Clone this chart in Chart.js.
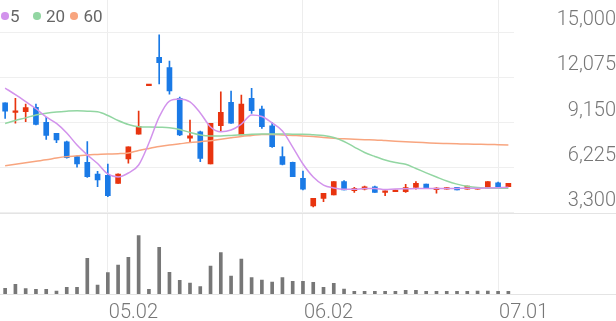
<!DOCTYPE html>
<html><head><meta charset="utf-8">
<script src="https://cdn.jsdelivr.net/npm/chart.js@4.4.1/dist/chart.umd.min.js"></script>
<style>
html,body{margin:0;padding:0;background:#fff;}
#wrap{position:relative;width:616px;height:321px;overflow:hidden;}
#c{position:absolute;left:0;top:0;}
.lgt{position:absolute;font-family:Roboto,"Noto Sans",sans-serif;font-size:17px;color:#666;line-height:20px;top:6px;}
.dot{position:absolute;width:7.5px;height:7.5px;border-radius:50%;top:12px;}
</style></head><body>
<div id="wrap"><canvas id="c" width="616" height="321"></canvas><div id="legend"></div></div>
<script>
const categories = ['04.17','04.18','04.21','04.22','04.23','04.24','04.25','04.28','04.29','04.30',
  '05.02','05.07','05.08','05.09','05.12','05.13','05.14','05.15','05.16','05.19',
  '05.20','05.21','05.22','05.23','05.26','05.27','05.28','05.29','05.30','06.02',
  '06.04','06.05','06.09','06.10','06.11','06.12','06.13','06.16','06.17','06.18',
  '06.19','06.20','06.23','06.24','06.25','06.26','06.27','06.30','07.01','07.02'];
const openPrices  = [10440,9820,9860,10140,9170,8460,7900,6950,6580,5820,5740,5220,6800,8400,11550,13380,12710,10730,8140,8560,6470,8950,10470,8350,10730,10030,8950,6950,6580,5550,3750,4250,4470,5330,4740,4850,5000,4640,4680,4680,4960,5180,4810,4850,4960,4840,4850,4900,5260,5000];
const highPrices  = [10440,10730,10360,10360,9500,8460,7950,6950,7920,6000,6470,5830,7590,9900,11600,14830,13140,10800,9320,8600,9110,11150,11200,10940,11370,10230,9150,7590,6600,6020,4250,4580,5330,5400,4960,5050,5050,4740,4790,5160,5330,5180,4940,4940,4960,5050,4960,5330,5300,5220];
const lowPrices   = [9430,9110,9210,9000,8070,7850,6850,6260,5610,5000,4350,5220,6520,8400,11550,11650,10990,8300,7850,6620,6470,8560,9100,8350,9750,8780,7550,6410,5650,4790,3700,4030,4470,4790,4640,4790,4640,4420,4680,4640,4840,4900,4580,4850,4790,4840,4850,4900,5000,5000];
const closePrices = [9900,9920,10120,9040,8330,8030,6880,6470,5650,5440,4420,5820,7590,8910,11600,13030,11200,8350,8290,6840,9110,9820,9110,10360,9920,8890,7590,6450,5650,4850,4250,4580,5330,4790,4900,5000,4640,4740,4790,4940,5220,4900,4900,4940,4790,5050,4960,5330,5000,5220];
const volumes = [57,97,53,47,47,30,67,67,357,90,213,290,367,583,47,467,217,137,110,73,280,413,180,350,163,140,120,163,127,127,117,67,107,50,27,27,27,27,27,37,37,27,27,27,27,27,30,30,27,27];
const ma5  = [11390,10960,10510,10050,9520,9100,8480,7700,7060,6500,5830,5630,5890,6410,7830,9520,10550,10680,10490,9780,8870,8560,8670,9060,9650,9550,9130,8610,7570,6470,5630,5110,4920,4830,4830,4890,4890,4820,4860,4870,4880,4890,4880,4880,4890,4900,4900,4920,4940,4960];
const ma20 = [9090,9290,9460,9650,9760,9840,9890,9920,9890,9850,9610,9290,9030,8890,8870,8850,8820,8710,8510,8350,8290,8290,8320,8360,8400,8420,8420,8420,8400,8400,8360,8310,8190,7930,7570,7220,6960,6730,6570,6450,6180,5900,5630,5370,5170,5030,4950,4920,4900,4900];
const ma60 = [6360,6450,6550,6650,6740,6860,6950,7000,7060,7090,7120,7140,7190,7350,7480,7600,7700,7780,7860,7920,7980,8070,8170,8260,8320,8380,8380,8350,8320,8290,8250,8190,8140,8100,8080,8050,8030,7990,7950,7920,7880,7850,7820,7800,7780,7760,7750,7740,7720,7700];
const priceTicks = [3300, 6225, 9150, 12075, 15000];
const dateTicks = ['05.02','06.02','07.01'];
const maLabels = ['5','20','60'];
const maColors = ['#d293ec','#92d6a2','#f8a57f'];

const UP = '#e8340f', DOWN = '#1a7ae6';
const candleColors = closePrices.map((c,i)=> c >= openPrices[i] ? UP : DOWN);

// HTML legend
const lg = document.getElementById('legend');
const dotX = [1.3, 33, 70.3], txtX = [10, 46, 83.5];
maLabels.forEach((t,i)=>{
  const d = document.createElement('div'); d.className='dot'; d.style.left=dotX[i]+'px'; d.style.background=maColors[i]; lg.appendChild(d);
  const s = document.createElement('div'); s.className='lgt'; s.style.left=txtX[i]+'px'; s.textContent=t; lg.appendChild(s);
});

const separators = {
  id:'separators',
  beforeDatasetsDraw(chart){
    const {ctx, chartArea} = chart;
    const y1 = Math.round(chart.scales.y.getPixelForValue(priceTicks[0])) + 0.5;
    const y2 = Math.round(chartArea.bottom) + 0.5;
    ctx.save();
    ctx.strokeStyle = '#e4e4e4'; ctx.lineWidth = 1;
    ctx.beginPath();
    ctx.moveTo(0, y1); ctx.lineTo(chart.width, y1);
    ctx.moveTo(0, y2); ctx.lineTo(chart.width, y2);
    ctx.stroke();
    ctx.restore();
  }
};

const noPad = s => { s.paddingTop = 0; s.paddingBottom = 0; s.paddingLeft = 0; s.paddingRight = 0; };
const axisFont = {family:'Roboto', size:20, weight:'300'};

new Chart(document.getElementById('c'), {
  data: {
    labels: categories,
    datasets: [
      {type:'line', label:maLabels[0], data:ma5, borderColor:maColors[0], borderWidth:1.5, pointRadius:0, cubicInterpolationMode:'monotone', yAxisID:'y', order:0},
      {type:'line', label:maLabels[1], data:ma20, borderColor:maColors[1], borderWidth:1.5, pointRadius:0, cubicInterpolationMode:'monotone', yAxisID:'y', order:0},
      {type:'line', label:maLabels[2], data:ma60, borderColor:maColors[2], borderWidth:1.5, pointRadius:0, cubicInterpolationMode:'monotone', yAxisID:'y', order:0},
      {type:'bar', label:'body', data:openPrices.map((o,i)=>[o, closePrices[i]]), backgroundColor:candleColors, barThickness:5, grouped:false, minBarLength:1.5, yAxisID:'y', order:1},
      {type:'bar', label:'wick', data:lowPrices.map((l,i)=>[l, highPrices[i]]), backgroundColor:candleColors, barThickness:1, grouped:false, yAxisID:'y', order:2},
      {type:'bar', label:'vol', data:volumes, backgroundColor:'#777777', barThickness:3, grouped:false, yAxisID:'yv', order:3}
    ]
  },
  options: {
    responsive:false, animation:false, devicePixelRatio:1,
    layout:{padding:0},
    plugins:{legend:{display:false}, tooltip:{enabled:false}},
    scales:{
      x:{
        type:'category', offset:true,
        grid:{offset:false, drawTicks:false, lineWidth:1,
          color: ctx => (dateTicks.includes(categories[ctx.index]) ? '#ededed' : 'rgba(0,0,0,0)')},
        border:{display:false},
        ticks:{autoSkip:false, maxRotation:0, minRotation:0, align:'start', padding:7, labelOffset:1,
          color:'#777', font:axisFont,
          callback:(v,i)=> dateTicks.includes(categories[i]) ? categories[i] : ''},
        afterFit: s => { s.height = 27; noPad(s); }
      },
      y:{
        position:'right', min:-1945, max:17091,
        afterBuildTicks: s => { s.ticks = priceTicks.map(v=>({value:v})); },
        grid:{color:'#efefef', drawTicks:false},
        border:{display:false},
        ticks:{crossAlign:'far', padding:36, labelOffset:-12, color:'#777', font:axisFont,
          callback: v => Number(v).toLocaleString('en-US')},
        afterFit: s => { s.width = 102.5; noPad(s); }
      },
      yv:{display:false, position:'right', min:0, max:2940}
    }
  },
  plugins:[separators]
});
</script>
</body></html>
